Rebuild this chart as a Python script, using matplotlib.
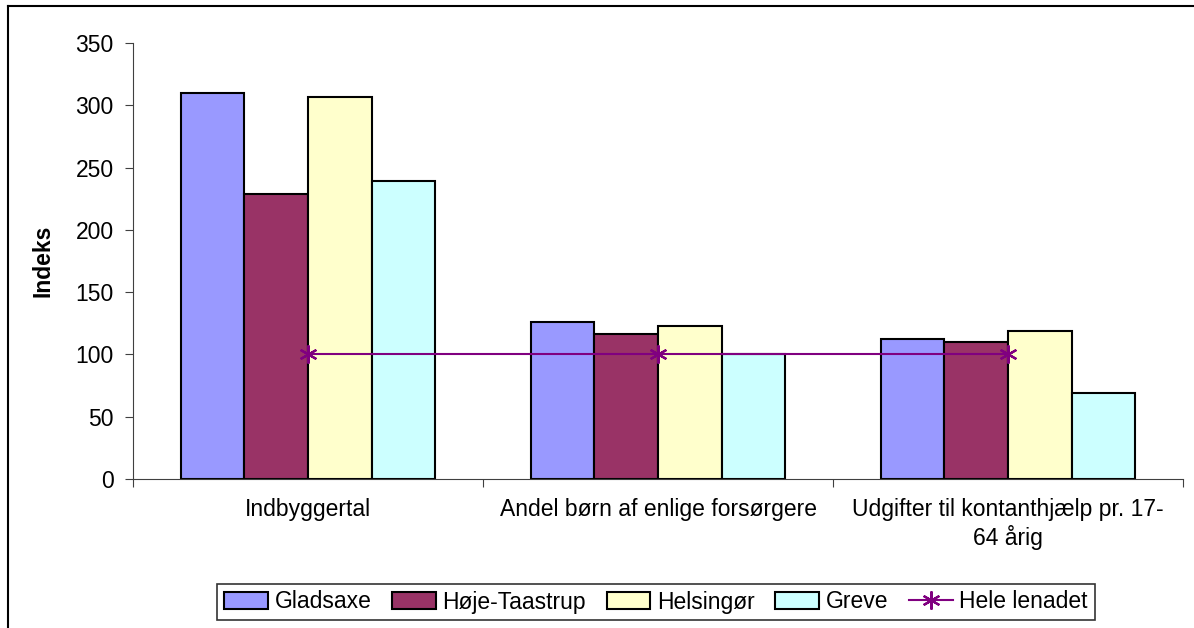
import numpy as np
import matplotlib
matplotlib.use("Agg")
import matplotlib.pyplot as plt
from matplotlib.lines import Line2D

# data
categories = ["Indbyggertal", "Andel børn af enlige forsørgere",
              "Udgifter til kontanthjælp pr. 17-\n64 årig"]
series_names = ["Gladsaxe", "Høje-Taastrup", "Helsingør", "Greve"]
gladsaxe = [310, 126, 112]
hoeje_taastrup = [229, 116, 110]
helsingoer = [307, 123, 119]
greve = [239, 100, 69]
hele_lenadet = [100, 100, 100]
line_name = "Hele lenadet"

colors = ["#9999FF", "#993366", "#FFFFCC", "#CCFFFF"]

plt.rcParams['font.family'] = ['Liberation Sans', 'DejaVu Sans']

fig = plt.figure(figsize=(11.94, 6.28), dpi=100)
ax = fig.add_axes([133 / 1194, 1 - 479 / 628, 1050 / 1194, 436 / 628])

x = np.arange(len(categories))
bw = 1 / 5.5
all_series = [gladsaxe, hoeje_taastrup, helsingoer, greve]
handles = []
for i, vals in enumerate(all_series):
    b = ax.bar(x + (i - 1.5) * bw, vals, width=bw, color=colors[i],
               edgecolor="black", linewidth=1.5, label=series_names[i], zorder=2)
    handles.append(b)

ln, = ax.plot(x, hele_lenadet, color="#800080", linewidth=1.5,
              marker=(6, 2, 0), markersize=13, markeredgewidth=1.6,
              label=line_name, zorder=3)
handles.append(ln)

ax.set_xlim(-0.5, 2.5)
ax.set_ylim(0, 350)
ax.set_yticks(range(0, 351, 50))
ax.tick_params(axis="y", labelsize=16.5, length=6, pad=8, color="#404040")

# ticks at group boundaries, labels at group centres
ax.set_xticks([-0.5, 0.5, 1.5, 2.5])
ax.set_xticklabels([])
ax.set_xticks(x, minor=True)
ax.set_xticklabels(categories, minor=True, fontsize=16.5)
ax.tick_params(axis="x", which="major", length=6, color="#404040")
ax.tick_params(axis="x", which="minor", length=0, pad=14)

for s in ["top", "right"]:
    ax.spines[s].set_visible(False)
for s in ["left", "bottom"]:
    ax.spines[s].set_color("#404040")

ax.set_ylabel("Indeks", fontsize=16.5, fontweight="bold")
ax.yaxis.set_label_coords(-0.075, 0.5)

leg = fig.legend(handles=handles, labels=series_names + [line_name],
                 loc="center", bbox_to_anchor=(656 / 1194, 1 - 602 / 628),
                 ncol=5, fontsize=16.5, frameon=True, fancybox=False,
                 edgecolor="black", handlelength=1.9, handletextpad=0.3,
                 columnspacing=0.9, borderpad=0.3)
leg.get_frame().set_linewidth(1.2)

# outer chart border (right and bottom run off the picture)
fig.add_artist(Line2D([8 / 1194, 8 / 1194], [1 - 6 / 628, 0], color="black",
                      linewidth=1.5, transform=fig.transFigure))
fig.add_artist(Line2D([8 / 1194, 1], [1 - 6 / 628, 1 - 6 / 628], color="black",
                      linewidth=1.5, transform=fig.transFigure))

fig.savefig("out.png", dpi=100)
